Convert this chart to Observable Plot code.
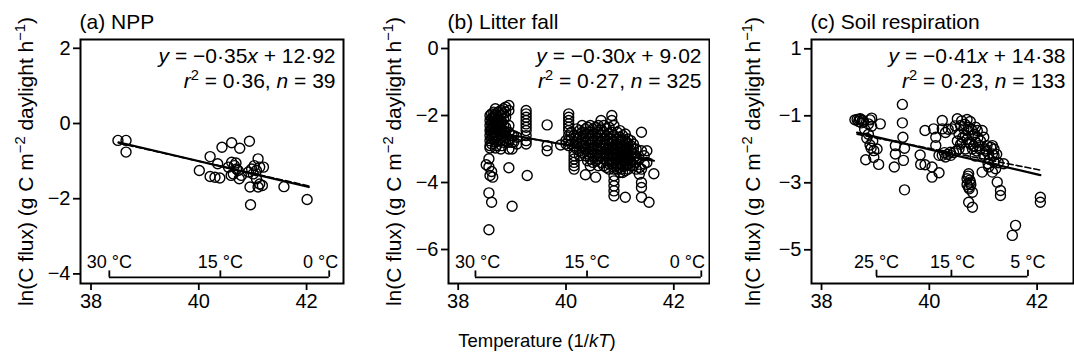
<!DOCTYPE html>
<html><head><meta charset="utf-8">
<script src="https://cdn.jsdelivr.net/npm/d3@7"></script>
<script src="https://cdn.jsdelivr.net/npm/@observablehq/plot@0.6"></script>
<style>
body{margin:0;background:#fff;font-family:"Liberation Sans",Arial,Helvetica,sans-serif;}
#row{display:flex;width:1074px;}
#row svg{display:block;flex:none;max-width:none;}
#xt{width:1074px;text-align:center;font-size:18.5px;height:42px;line-height:42px;color:#000;}
</style></head><body>
<div id="row"></div>
<div id="xt">Temperature (1/<i>kT</i>)</div>
<script>
// ---------- data ----------
const xTicks = [38, 40, 42];
const panelTitles = ["(a) NPP", "(b) Litter fall", "(c) Soil respiration"];
const yTicksNpp = [2, 0, -2, -4];
const yTicksLitter = [0, -2, -4, -6];
const yTicksSoil = [1, -1, -3, -5];
const eqSlope = ["−0·35", "−0·30", "−0·41"];
const eqIntercept = ["12·92", "9·02", "14·38"];
const eqR2 = ["0·36", "0·27", "0·23"];
const eqN = ["39", "325", "133"];

const nppPts = [[38.50,-0.45],[38.65,-0.45],[38.65,-0.76],[40.43,-0.63],[40.61,-0.51],[40.76,-0.66],[40.94,-0.47],
 [40.21,-0.88],[40.01,-1.25],[40.35,-1.07],[40.21,-1.41],[40.30,-1.43],[40.39,-1.45],[40.61,-1.03],[40.66,-1.12],
 [40.70,-1.21],[40.64,-1.34],[40.73,-1.25],[40.79,-1.38],[40.60,-1.38],[40.75,-1.47],[41.10,-0.94],[40.98,-1.21],
 [41.07,-1.25],[41.13,-1.16],[41.20,-1.16],[41.01,-1.34],[40.92,-1.29],[40.95,-1.69],[41.10,-1.69],[41.13,-1.61],
 [41.58,-1.68],[42.01,-2.02],[40.96,-2.16],[40.69,-1.05],[40.55,-1.16],[41.03,-1.12],[41.18,-1.65],[41.07,-1.47]];

// litter fall: columns [x, [y values]]
const litterCols = [
 [38.52,[-3.47]],
 [38.57,[-3.29,-3.54,-4.31,-5.41]],
 [38.59,[-2.0,-2.15,-2.3,-2.45,-2.6,-2.75,-2.9,-2.97,-3.79]],
 [38.62,[-1.95,-2.1,-2.25,-2.4,-2.55,-2.7,-2.85,-3.67,-4.59]],
 [38.64,[-2.05,-2.2,-2.35,-2.5,-2.65,-3.84]],
 [38.66,[-1.9,-2.1,-2.3,-2.5,-2.7]],
 [38.69,[-1.8,-1.95,-2.05,-2.2,-2.35,-2.5,-2.65,-2.8,-2.97]],
 [38.71,[-2.0,-2.15,-2.4,-2.6,-2.9]],
 [38.74,[-1.9,-2.05,-2.2,-2.3,-2.45,-2.6,-2.75]],
 [38.79,[-1.85,-2.0,-2.15,-2.25,-2.4,-2.55,-2.75,-3.0]],
 [38.81,[-1.9,-2.2,-2.5,-2.65,-2.9]],
 [38.84,[-1.8,-1.95,-2.1,-2.3,-2.45,-2.6,-2.8]],
 [38.88,[-1.75,-1.9,-2.05,-2.35,-2.5,-2.65,-2.75]],
 [38.94,[-1.7,-1.85,-2.3,-2.5,-2.7,-2.8,-3.0,-3.56]],
 [39.00,[-2.6,-2.8,-3.0,-4.71]],
 [39.03,[-2.6,-2.8]],
 [39.09,[-2.65,-2.85]],
 [39.26,[-1.85,-1.95,-2.05,-2.15,-2.25,-2.35,-2.45,-2.6,-2.75,-2.85]],
 [39.28,[-3.79]],
 [39.65,[-2.28,-2.9,-3.05]],
 [39.90,[-2.88]],
 [40.00,[-2.75,-2.85]],
 [40.05,[-1.95,-2.05,-2.15,-2.25,-2.35,-2.45,-2.6,-2.75,-2.9]],
 [40.10,[-2.5,-2.7,-2.85]],
 [40.15,[-2.6,-2.9,-3.1,-3.2,-3.3,-3.4,-3.5,-3.6]],
 [40.20,[-2.4,-2.6,-2.8,-3.0]],
 [40.25,[-2.45,-2.65,-2.85,-3.05,-3.2]],
 [40.30,[-2.3,-2.5,-2.7,-2.9,-3.1]],
 [40.36,[-2.4,-2.6,-2.8,-3.0,-3.2,-3.77]],
 [40.40,[-2.35,-2.55,-2.75,-2.95,-3.15,-3.35]],
 [40.45,[-2.3,-2.5,-2.7,-2.9,-3.1,-3.3,-3.5]],
 [40.50,[-2.4,-2.6,-2.8,-3.0,-3.2,-3.4]],
 [40.55,[-2.35,-2.55,-2.75,-2.95,-3.15,-3.35,-3.84]],
 [40.60,[-2.3,-2.5,-2.7,-2.9,-3.1,-3.3,-3.5]],
 [40.65,[-2.15,-2.4,-2.6,-2.8,-3.0,-3.2,-3.4]],
 [40.70,[-2.3,-2.5,-2.7,-2.85,-3.0,-3.15,-3.3,-3.5]],
 [40.75,[-2.4,-2.6,-2.75,-2.9,-3.05,-3.2,-3.35,-3.55]],
 [40.80,[-2.35,-2.55,-2.7,-2.85,-3.0,-3.15,-3.3,-3.45,-3.6]],
 [40.85,[-2.0,-2.15,-2.5,-2.7,-2.85,-3.0,-3.15,-3.3,-3.45]],
 [40.89,[-2.3,-2.6,-2.8,-2.95,-3.1,-3.25,-3.4,-3.6,-3.8,-3.95,-4.1,-4.25,-4.4]],
 [40.92,[-2.9,-3.1,-3.3,-3.5]],
 [40.95,[-2.5,-2.7,-2.85,-3.0,-3.15,-3.3,-3.45,-3.6]],
 [41.00,[-2.45,-2.65,-2.8,-2.95,-3.1,-3.25,-3.4,-3.55,-3.7]],
 [41.02,[-3.0,-3.2,-3.4,-3.6]],
 [41.05,[-2.6,-2.75,-2.9,-3.05,-3.2,-3.35,-3.5,-3.7]],
 [41.10,[-2.55,-2.75,-2.9,-3.05,-3.2,-3.35,-3.5,-3.65,-4.44]],
 [41.12,[-2.8,-3.0,-3.25,-3.45]],
 [41.15,[-2.7,-2.85,-3.0,-3.15,-3.3,-3.45,-3.6]],
 [41.20,[-2.75,-2.9,-3.05,-3.2,-3.35,-3.5]],
 [41.25,[-2.85,-3.0,-3.15,-3.3,-3.5]],
 [41.30,[-3.0,-3.2,-3.4,-3.6]],
 [41.36,[-3.3,-3.55,-3.75]],
 [41.40,[-2.5,-3.05,-3.6,-4.0,-4.15,-4.44]],
 [41.45,[-3.2,-3.45]],
 [41.50,[-3.05,-3.4]],
 [41.54,[-4.59]],
 [41.63,[-3.74]]
];
const litterPts = litterCols.flatMap(([x, ys]) => ys.map(y => [x, y]));

const soilPts = [[38.66,-1.11],[38.72,-1.09],[38.69,-1.17],[38.76,-1.13],[38.74,-1.21],[38.70,-1.10],[38.78,-1.18],
 [38.62,-1.12],[38.90,-1.12],[38.93,-1.07],[38.93,-1.31],[39.09,-1.24],[38.87,-1.24],[38.84,-1.67],[38.90,-1.87],
 [38.92,-1.97],[38.97,-2.04],[39.03,-1.99],[38.80,-1.40],[38.87,-1.55],[38.95,-1.75],[38.82,-2.31],[38.97,-2.24],
 [39.06,-2.45],[39.50,-0.66],[39.50,-1.21],[39.51,-1.64],[39.37,-1.89],[39.54,-1.97],[39.37,-2.14],[39.52,-2.33],
 [39.35,-2.53],[39.54,-3.21],[39.92,-1.44],[39.83,-2.17],[39.84,-2.45],[39.92,-2.46],
 [40.08,-1.39],[40.24,-1.14],[40.24,-1.39],[40.12,-1.64],[40.12,-1.89],[40.18,-2.18],[40.24,-2.18],[40.30,-2.23],
 [40.39,-2.09],[40.42,-1.39],[40.05,-2.53],[40.18,-2.70],[40.05,-2.83],
 [40.52,-1.09],[40.70,-1.11],[40.76,-1.17],[40.58,-1.29],[40.64,-1.39],[40.73,-1.34],[40.86,-1.34],[40.89,-1.44],
 [40.55,-1.54],[40.67,-1.59],[40.80,-1.59],[40.98,-1.44],[41.01,-1.64],[40.61,-1.79],[40.73,-1.79],[40.86,-1.79],
 [40.55,-1.99],[40.67,-1.99],[40.80,-1.99],[40.92,-1.89],[41.04,-1.99],[41.07,-1.89],[41.14,-1.94],[41.17,-1.89],
 [41.17,-2.14],[41.01,-2.18],[41.20,-1.99],[41.20,-2.18],[41.20,-2.38],[41.23,-2.58],[41.17,-2.68],
 [41.26,-2.98],[41.32,-3.23],[41.32,-3.38],[40.98,-2.68],[41.38,-2.43],
 [40.73,-2.73],[40.70,-2.88],[40.76,-2.98],[40.73,-3.13],[40.80,-3.28],[40.73,-3.58],[40.80,-3.73],
 [40.72,-2.80],[40.75,-2.92],[40.70,-3.05],[40.77,-3.05],[40.74,-3.18],
 [42.06,-3.43],[42.06,-3.58],[41.60,-4.27],[41.54,-4.57],[41.09,-2.43],[41.10,-2.53],
 [40.60,-1.15],[40.66,-1.25],[40.72,-1.45],[40.78,-1.40],[40.84,-1.55],[40.90,-1.65],[40.95,-1.75],[40.62,-1.65],
 [40.70,-1.70],[40.76,-1.85],[40.82,-1.90],[40.88,-2.05],[40.94,-2.00],[40.58,-1.85],[41.05,-2.05],[41.10,-2.15],
 [41.12,-2.30],[40.35,-1.40],[40.30,-1.50],[40.45,-2.10],[40.50,-2.05],[40.28,-2.10],[40.34,-2.15],[40.40,-2.18],
 [40.48,-1.30],[40.52,-1.75],[41.28,-2.40],[41.25,-2.15],[40.85,-2.20]];

// fitted lines (solid) and alternative fits (dashed), endpoints
const nppFit = [[38.51,-0.50],[42.04,-1.69]];
const nppFitAlt = [[38.51,-0.52],[42.04,-1.66]];
const litterFit = [[38.52,-2.45],[41.63,-3.35]];
const litterFitAlt = [[38.52,-2.47],[41.63,-3.32]];
const soilFit = [[38.66,-1.50],[42.06,-2.77]];
const soilFitAlt = [[38.66,-1.55],[42.06,-2.62]];

// temperature brackets (in 1/kT units)
const bracketTicks = [[38.34,40.40,42.42],[38.32,40.39,42.51],[39.02,40.41,41.83]];
const bracketLabelX = [[38.34,40.40,42.26],[38.36,40.39,42.25],[39.02,40.43,41.83]];
const bracketLabels = [["30 °C","15 °C","0 °C"],["30 °C","15 °C","0 °C"],["25 °C","15 °C","5 °C"]];
const bracketY = [-4.09, -6.83, -5.80];
const bracketTop = [-3.92, -6.64, -5.61];
const bracketLabelY = [-3.68, -6.38, -5.37];

// ---------- drawing ----------
const FONT = '"Liberation Sans", Arial, Helvetica, sans-serif';
const fmt = d => d < 0 ? "−" + Math.abs(d) : String(d);
const layouts = [
  {w: 350, ml: 80, mr: 7, xd: [37.805, 42.685], yd: [-4.255, 2.234], lo: 62},
  {w: 360, ml: 98, mr: 1, xd: [37.82, 42.662], yd: [-7.015, 0.269], lo: 62},
  {w: 364, ml: 101, mr: 1, xd: [37.814, 42.675], yd: [-6.006, 1.278], lo: 66}
];
const panelPts = [nppPts, litterPts, soilPts];
const panelFit = [nppFit, litterFit, soilFit];
const panelFitAlt = [nppFitAlt, litterFitAlt, soilFitAlt];
const panelYTicks = [yTicksNpp, yTicksLitter, yTicksSoil];
const SUP = (s) => `<tspan dy="-8" font-size="70%">${s}</tspan>`;
const yLabelHTML = `ln(C flux) (g C m${SUP("−2")}<tspan dy="8"> daylight h</tspan>${SUP("−1")}<tspan dy="8">)</tspan>`;
const it = (s) => `<tspan font-style="italic">${s}</tspan>`;

const row = document.getElementById("row");
for (let i = 0; i < 3; i++) {
  const L = layouts[i];
  const bTicks = bracketTicks[i].map(x => ({x, y1: bracketY[i], y2: bracketTop[i]}));
  const bLabels = bracketLabels[i].map((t, j) => ({x: bracketLabelX[i][j], y: bracketLabelY[i], t}));
  const svg = Plot.plot({
    width: L.w, height: 320,
    marginLeft: L.ml, marginRight: L.mr, marginTop: 39, marginBottom: 37,
    style: {fontFamily: FONT, fontSize: "20px", color: "black", background: "white"},
    x: {domain: L.xd},
    y: {domain: L.yd},
    marks: [
      Plot.axisX({ticks: xTicks, tickSize: 7, tickPadding: 3, tickFormat: fmt, strokeWidth: 1.8, label: null}),
      Plot.axisY({ticks: panelYTicks[i], tickSize: 7, tickPadding: 3, tickFormat: fmt, strokeWidth: 1.8,
        label: "ln(C flux)", labelAnchor: "center", labelOffset: L.lo, labelArrow: "none"}),
      Plot.dot(panelPts[i], {x: d => d[0], y: d => d[1], r: 5, stroke: "black", strokeWidth: 1.4, fill: "none"}),
      Plot.line(panelFitAlt[i], {x: d => d[0], y: d => d[1], stroke: "black", strokeWidth: 1.6, strokeDasharray: "6,3"}),
      Plot.line(panelFit[i], {x: d => d[0], y: d => d[1], stroke: "black", strokeWidth: 2.2}),
      Plot.ruleY([{y: bracketY[i], x1: bracketTicks[i][0], x2: bracketTicks[i][2]}], {y: "y", x1: "x1", x2: "x2", stroke: "black", strokeWidth: 1.8}),
      Plot.ruleX(bTicks, {x: "x", y1: "y1", y2: "y2", stroke: "black", strokeWidth: 1.8}),
      Plot.text(bLabels, {x: "x", y: "y", text: "t", fontSize: 18, fill: "black"}),
      Plot.text([panelTitles[i]], {frameAnchor: "top-left", textAnchor: "start", lineAnchor: "middle", dx: -1, dy: -17, fontSize: 21, fill: "black"}),
      Plot.text(["EQLINE1"], {frameAnchor: "top-right", textAnchor: "end", lineAnchor: "middle", dx: -8, dy: 17, fontSize: 21, fill: "black"}),
      Plot.text(["EQLINE2"], {frameAnchor: "top-right", textAnchor: "end", lineAnchor: "middle", dx: -8, dy: 42, fontSize: 21, fill: "black"}),
      Plot.frame({stroke: "black", strokeWidth: 2})
    ]
  });
  svg.querySelectorAll("text").forEach(t => {
    if (t.textContent === "EQLINE1") t.innerHTML = `${it("y")} = ${eqSlope[i]}${it("x")} + ${eqIntercept[i]}`;
    else if (t.textContent === "EQLINE2") t.innerHTML = `${it("r")}${SUP("2")}<tspan dy="8"> = ${eqR2[i]}, </tspan>${it("n")} = ${eqN[i]}`;
  });
  const yl = svg.querySelector('[aria-label="y-axis label"] text');
  if (yl) { yl.innerHTML = yLabelHTML; yl.setAttribute("font-size", "21"); }
  row.appendChild(svg);
}
</script>
</body></html>
